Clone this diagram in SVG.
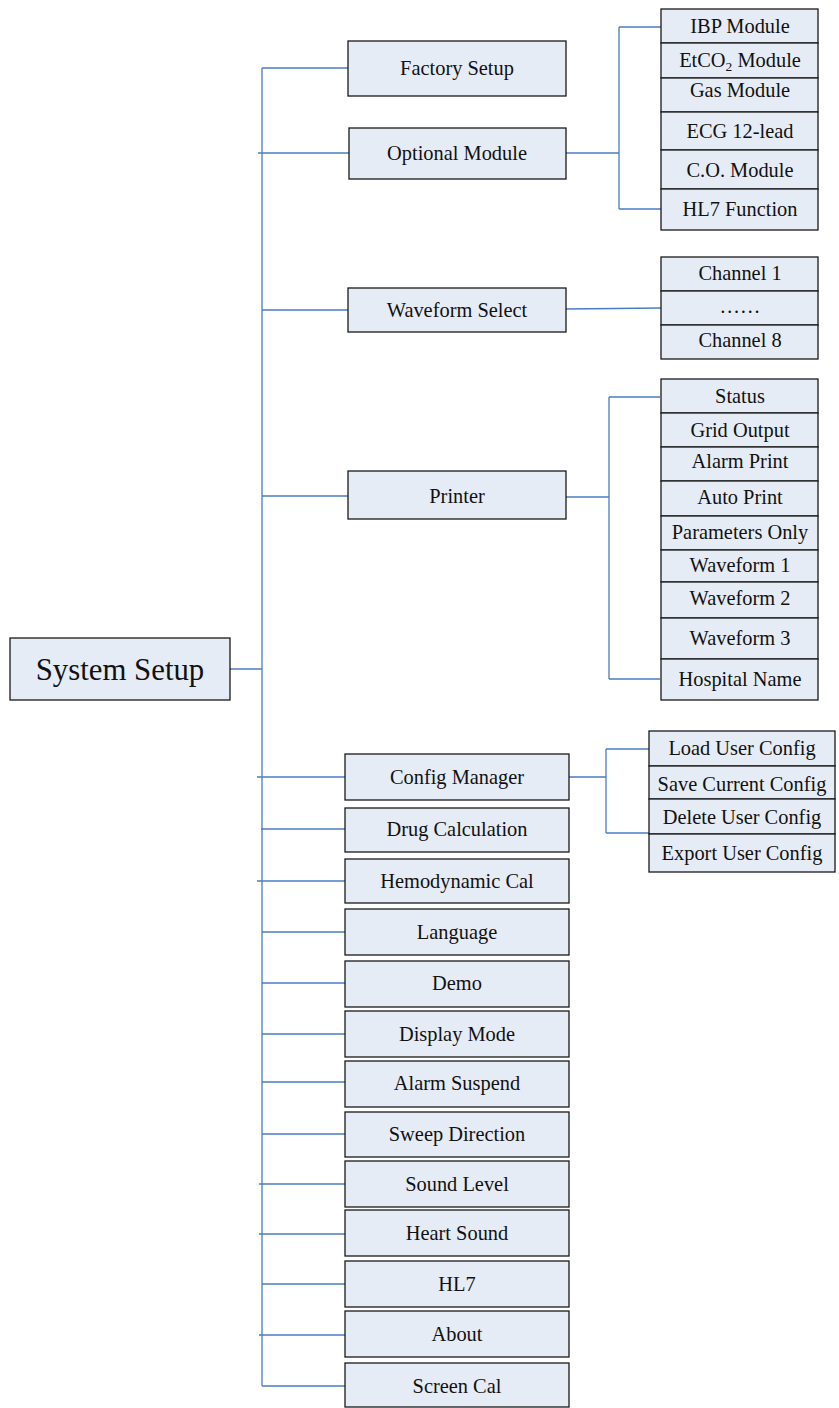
<svg xmlns="http://www.w3.org/2000/svg" width="839" height="1408" viewBox="0 0 839 1408">
<style>
.box{fill:#E6ECF6;stroke:#1a1a1a;stroke-width:1.3}
.t{font-family:"Liberation Serif","Times New Roman",serif;font-size:20.4px;fill:#111;text-anchor:middle}
.big{font-size:30.8px}
.c{fill:none;stroke:#4A7CC4;stroke-width:1.3}
</style>
<rect width="839" height="1408" fill="#fff"/>
<g id="connectors" class="c">
<path d="M230 669H262M262 68V1386"/>
<path d="M262 68H348M258 153H349M262 310H348M262 496H348M257 777H345M261 829H345M257 881H345M262 932H345M262 983H345M262 1034H345M262 1082H353M262 1134H345M259 1184H345M259 1234H345M262 1284H345M259 1335H345M262 1386H345"/>
<path d="M566 153H619M619 27V209M619 27H661M619 209H661"/>
<path d="M566 309L661 308"/>
<path d="M566 497H609M609 397V679M609 397H660M609 679H660"/>
<path d="M569 777H606M606 749V833M606 749H649M606 833H649"/>
</g>
<g id="system-setup"><rect class="box" x="10" y="638" width="220" height="62"/><text class="t big" x="120" y="680">System Setup</text></g>
<g id="factory-setup"><rect class="box" x="348" y="41" width="218" height="55"/><text class="t" x="457" y="75">Factory Setup</text></g>
<g id="optional-module"><rect class="box" x="349" y="128" width="217" height="51"/><text class="t" x="457" y="160">Optional Module</text></g>
<g id="waveform-select"><rect class="box" x="348" y="288" width="218" height="44"/><text class="t" x="457" y="317">Waveform Select</text></g>
<g id="printer"><rect class="box" x="348" y="471" width="218" height="48"/><text class="t" x="457" y="503">Printer</text></g>
<g id="config-manager"><rect class="box" x="345" y="754" width="224" height="46"/><text class="t" x="457" y="784">Config Manager</text></g>
<g id="drug-calculation"><rect class="box" x="345" y="808" width="224" height="44"/><text class="t" x="457" y="836">Drug Calculation</text></g>
<g id="hemodynamic-cal"><rect class="box" x="345" y="859" width="224" height="44"/><text class="t" x="457" y="888">Hemodynamic Cal</text></g>
<g id="language"><rect class="box" x="345" y="909" width="224" height="46"/><text class="t" x="457" y="939">Language</text></g>
<g id="demo"><rect class="box" x="345" y="961" width="224" height="46"/><text class="t" x="457" y="990">Demo</text></g>
<g id="display-mode"><rect class="box" x="345" y="1011" width="224" height="46"/><text class="t" x="457" y="1041">Display Mode</text></g>
<g id="alarm-suspend"><rect class="box" x="345" y="1061" width="224" height="46"/><text class="t" x="457" y="1090">Alarm Suspend</text></g>
<g id="sweep-direction"><rect class="box" x="345" y="1112" width="224" height="45"/><text class="t" x="457" y="1141">Sweep Direction</text></g>
<g id="sound-level"><rect class="box" x="345" y="1161" width="224" height="46"/><text class="t" x="457" y="1191">Sound Level</text></g>
<g id="heart-sound"><rect class="box" x="345" y="1210" width="224" height="46"/><text class="t" x="457" y="1240">Heart Sound</text></g>
<g id="hl7"><rect class="box" x="345" y="1261" width="224" height="46"/><text class="t" x="457" y="1291">HL7</text></g>
<g id="about"><rect class="box" x="345" y="1311" width="224" height="46"/><text class="t" x="457" y="1341">About</text></g>
<g id="screen-cal"><rect class="box" x="345" y="1363" width="224" height="44"/><text class="t" x="457" y="1393">Screen Cal</text></g>
<g id="ibp-module"><rect class="box" x="661" y="9" width="157" height="34"/><text class="t" x="740" y="33">IBP Module</text></g>
<g id="etco2-module"><rect class="box" x="661" y="43" width="157" height="35"/><text class="t" x="740" y="67">EtCO<tspan font-size="13.5" dy="4">2</tspan><tspan dy="-4"> Module</tspan></text></g>
<g id="gas-module"><rect class="box" x="661" y="78" width="157" height="34"/><text class="t" x="740" y="97">Gas Module</text></g>
<g id="ecg-12-lead"><rect class="box" x="661" y="112" width="157" height="38"/><text class="t" x="740" y="138">ECG 12-lead</text></g>
<g id="co-module"><rect class="box" x="661" y="150" width="157" height="39"/><text class="t" x="740" y="177">C.O. Module</text></g>
<g id="hl7-function"><rect class="box" x="661" y="189" width="157" height="41"/><text class="t" x="740" y="216">HL7 Function</text></g>
<g id="channel-1"><rect class="box" x="661" y="257" width="157" height="34"/><text class="t" x="740" y="280">Channel 1</text></g>
<g id="channel-dots"><rect class="box" x="661" y="291" width="157" height="34"/><text class="t" x="740" y="313">……</text></g>
<g id="channel-8"><rect class="box" x="661" y="325" width="157" height="34"/><text class="t" x="740" y="347">Channel 8</text></g>
<g id="status"><rect class="box" x="661" y="379" width="157" height="34"/><text class="t" x="740" y="403">Status</text></g>
<g id="grid-output"><rect class="box" x="661" y="413" width="157" height="34"/><text class="t" x="740" y="437">Grid Output</text></g>
<g id="alarm-print"><rect class="box" x="661" y="447" width="157" height="34"/><text class="t" x="740" y="468">Alarm Print</text></g>
<g id="auto-print"><rect class="box" x="661" y="481" width="157" height="35"/><text class="t" x="740" y="504">Auto Print</text></g>
<g id="parameters-only"><rect class="box" x="661" y="516" width="157" height="34"/><text class="t" x="740" y="539">Parameters Only</text></g>
<g id="waveform-1"><rect class="box" x="661" y="550" width="157" height="32"/><text class="t" x="740" y="572">Waveform 1</text></g>
<g id="waveform-2"><rect class="box" x="661" y="582" width="157" height="36"/><text class="t" x="740" y="605">Waveform 2</text></g>
<g id="waveform-3"><rect class="box" x="661" y="618" width="157" height="41"/><text class="t" x="740" y="645">Waveform 3</text></g>
<g id="hospital-name"><rect class="box" x="661" y="659" width="157" height="41"/><text class="t" x="740" y="686">Hospital Name</text></g>
<g id="load-user-config"><rect class="box" x="649" y="731" width="186" height="35"/><text class="t" x="742" y="755">Load User Config</text></g>
<g id="save-current-config"><rect class="box" x="649" y="766" width="186" height="33"/><text class="t" x="742" y="791">Save Current Config</text></g>
<g id="delete-user-config"><rect class="box" x="649" y="799" width="186" height="35"/><text class="t" x="742" y="824">Delete User Config</text></g>
<g id="export-user-config"><rect class="box" x="649" y="834" width="186" height="38"/><text class="t" x="742" y="860">Export User Config</text></g>
</svg>
